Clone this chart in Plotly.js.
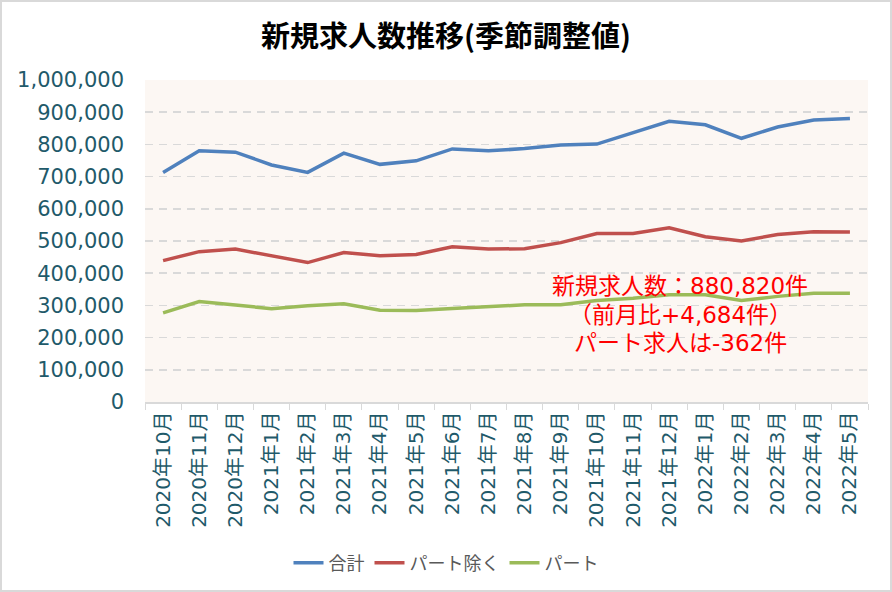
<!DOCTYPE html>
<html>
<head>
<meta charset="utf-8">
<script src="https://cdn.plot.ly/plotly-3.0.1.min.js"></script>
<style>
  html, body { margin: 0; padding: 0; background: #fff; }
  #wrap { position: relative; width: 892px; height: 592px; }
  #chart { width: 892px; height: 592px; }
  #frame { position: absolute; left: 0; top: 0; width: 892px; height: 592px;
           box-sizing: border-box; border: 2px solid #d9d9d9; pointer-events: none; }
</style>
</head>
<body>
<div id="wrap">
  <div id="chart"></div>
  <div id="frame"></div>
</div>
<script>
// months on the x axis
const months = [
  '2020年10月', '2020年11月', '2020年12月',
  '2021年1月', '2021年2月', '2021年3月', '2021年4月', '2021年5月', '2021年6月',
  '2021年7月', '2021年8月', '2021年9月', '2021年10月', '2021年11月', '2021年12月',
  '2022年1月', '2022年2月', '2022年3月', '2022年4月', '2022年5月'
];

// values
const total = [713000, 780000, 776000, 736000, 713000, 773000, 738000, 749000, 786000, 780000,
               787000, 798000, 801000, 837000, 872000, 861000, 819000, 854000, 876000, 880820];
const exPart = [439000, 467000, 475000, 454000, 433000, 464000, 454000, 458000, 482000, 475000,
                476000, 495000, 523000, 523000, 541000, 513000, 500000, 520000, 529000, 528000];
const part = [277000, 312000, 301000, 290000, 299000, 305000, 285000, 284000, 290000, 297000,
              302000, 302000, 315000, 322000, 333000, 333000, 315000, 328000, 338000, 338000];

const seriesNames = ['合計', 'パート除く', 'パート'];
const seriesColors = ['#4f81bd', '#c0504d', '#9bbb59'];

const noteLines = ['新規求人数：880,820件', '（前月比+4,684件）', 'パート求人は-362件'];

const CJK = '"Noto Sans CJK JP", "Noto Sans", sans-serif';
const TICK_FONT = '"DejaVu Sans", "Noto Sans CJK JP", sans-serif';
const TEAL = '#1f5a6a';

const traces = [total, exPart, part].map((vals, i) => ({
    x: months,
    y: vals,
    name: seriesNames[i],
    type: 'scatter',
    mode: 'lines',
    line: { color: seriesColors[i], width: 3.5 },
    hoverinfo: 'skip'
}));

// red note: one annotation per line, so the line spacing matches
const noteY = [286, 315, 343];
const notes = noteLines.map((t, i) => ({
    text: t,
    xref: 'paper', yref: 'paper',
    x: (680 - 145) / 723, y: (402.5 - noteY[i]) / 323,
    xanchor: 'center', yanchor: 'middle',
    showarrow: false,
    font: { family: TICK_FONT, size: 23, color: '#ff0000' }
}));

const layout = {
    width: 892,
    height: 592,
    margin: { l: 145, r: 24, t: 80, b: 190 },
    paper_bgcolor: '#ffffff',
    plot_bgcolor: '#fcf7f3',
    font: { family: CJK, color: '#595959' },
    title: {
        text: '新規求人数推移(季節調整値)',
        font: { family: CJK, size: 29, color: '#000000', weight: 'bold' },
        xref: 'container', x: 0.5, xanchor: 'center',
        yref: 'container', y: 1 - 37 / 592, yanchor: 'middle'
    },
    xaxis: {
        type: 'category',
        range: [-0.5, months.length - 0.5],
        tickangle: -90,
        tickfont: { family: TICK_FONT, size: 20, color: TEAL },
        showgrid: false,
        showline: true,
        linecolor: '#d9d9d9',
        linewidth: 1.5,
        ticks: 'outside',
        tickson: 'boundaries',
        ticklen: 6,
        tickcolor: '#d9d9d9',
        tickwidth: 1,
        zeroline: false,
        fixedrange: true
    },
    yaxis: {
        range: [0, 1000000],
        dtick: 100000,
        tickformat: ',d',
        tickfont: { family: TICK_FONT, size: 21, color: TEAL },
        showgrid: true,
        gridcolor: '#d9d9d9',
        gridwidth: 1.5,
        griddash: '8px,6px',
        showline: false,
        zeroline: false,
        ticks: '',
        ticklabelstandoff: 20,
        fixedrange: true
    },
    legend: {
        orientation: 'h',
        xref: 'container', x: 0.5, xanchor: 'center',
        yref: 'container', y: (592 - 563) / 592, yanchor: 'middle',
        font: { family: CJK, size: 18, color: '#595959' },
        bgcolor: 'rgba(0,0,0,0)'
    },
    annotations: notes,
    showlegend: true
};

Plotly.newPlot('chart', traces, layout, { displayModeBar: false, staticPlot: true });
</script>
</body>
</html>
